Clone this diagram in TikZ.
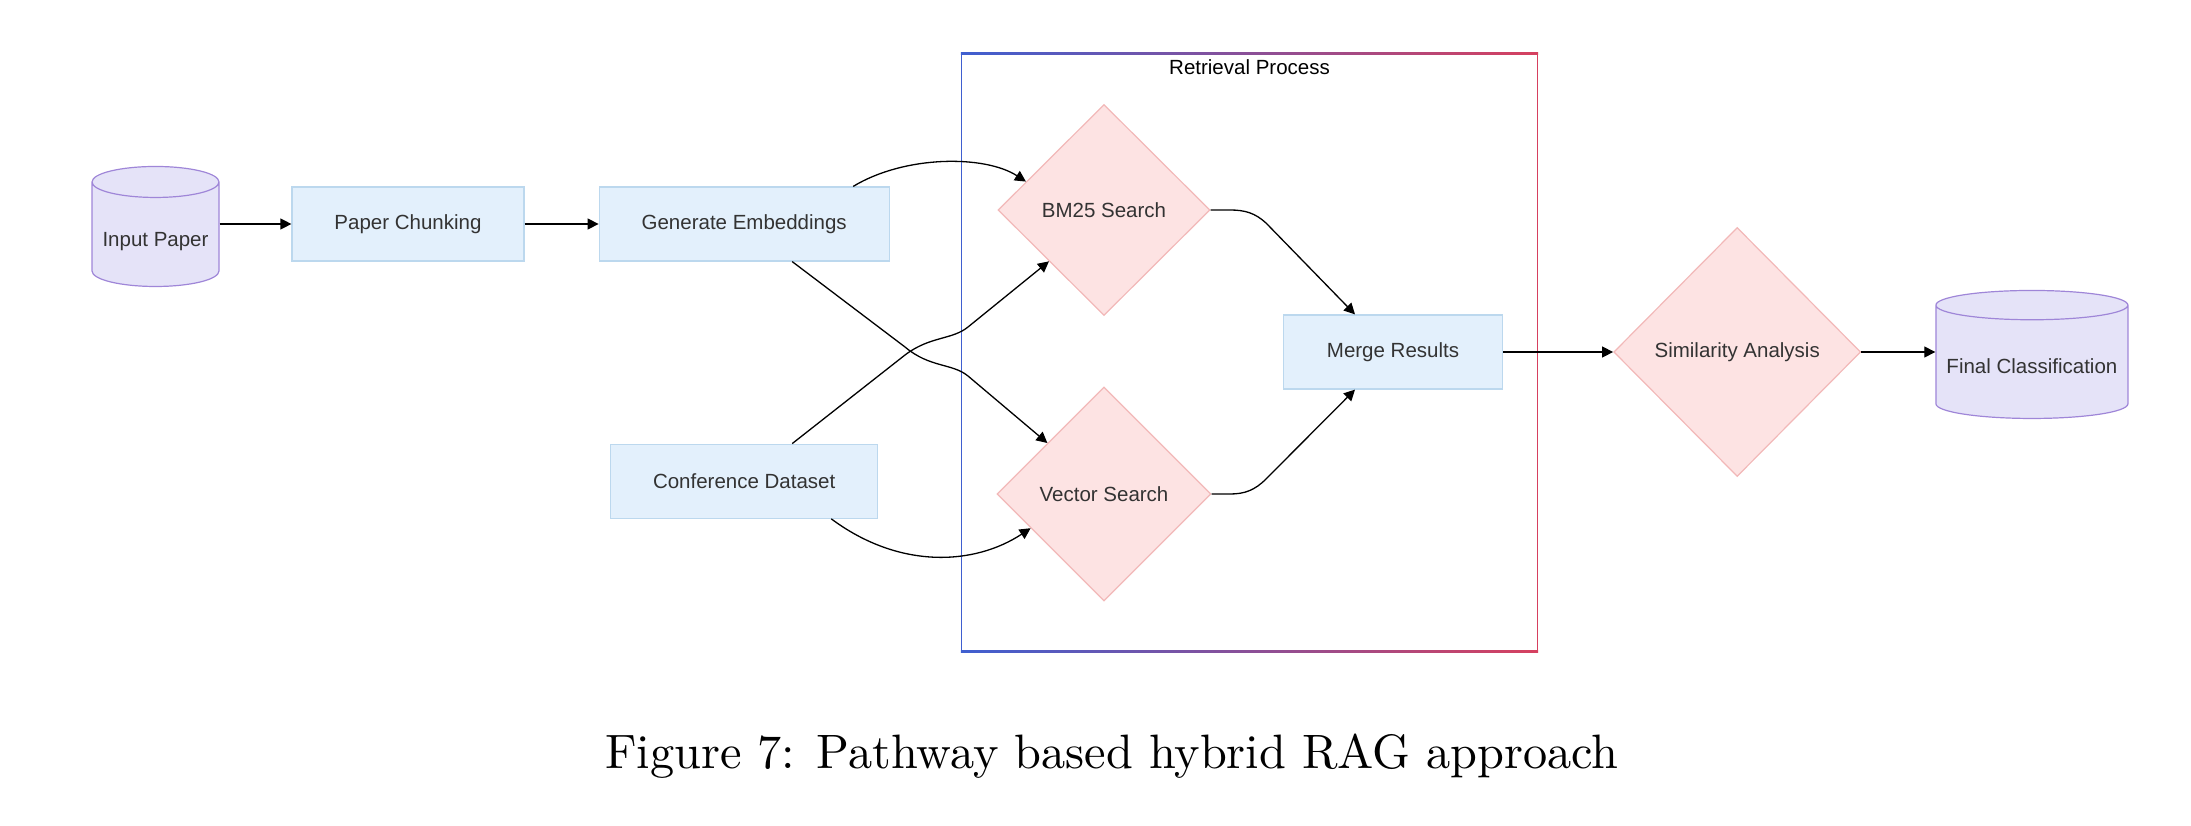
\documentclass[tikz,border=0pt]{standalone}
\usepackage{fontspec}
\usepackage{tikz}
\usetikzlibrary{positioning,arrows.meta,shapes.geometric}
\newfontfamily\diagfont{Liberation Sans}
\definecolor{boxfill}{HTML}{E3F0FC}
\definecolor{boxline}{HTML}{BCD8EE}
\definecolor{dmdfill}{HTML}{FDE3E3}
\definecolor{dmdline}{HTML}{F2B8B8}
\definecolor{cylfill}{HTML}{E5E3F8}
\definecolor{cylline}{HTML}{9F86D8}
\definecolor{txtgray}{HTML}{333333}
\definecolor{retblue}{HTML}{3F5FD0}
\definecolor{retred}{HTML}{D6405F}

\begin{document}
\begin{tikzpicture}[
  x=1pt, y=-1pt,
  node distance=74pt,
  font=\diagfont\fontsize{20.5}{24}\selectfont,
  box/.style={draw=boxline, fill=boxfill, line width=1.2pt, text=txtgray, minimum height=74pt},
  dmd/.style={diamond, aspect=1, draw=dmdline, fill=dmdfill, line width=1.2pt, text=txtgray, inner sep=0pt},
  db/.style={cylinder, shape border rotate=90, draw=cylline, fill=cylfill, line width=1.2pt,
    text=txtgray, text height=24pt, text depth=5pt},
  arrow/.style={-{Triangle[length=11pt,width=11pt]}, line width=1.3pt},
]
\useasboundingbox (0,0) rectangle (2191,826);

% retrieval frame
\node[minimum width=577pt, minimum height=599pt, inner sep=0pt] (retr) at (1249.5,352.5) {};
\fill[retblue] (retr.north west) rectangle ([xshift=1.5pt]retr.south west);
\fill[retred] ([xshift=-1.5pt]retr.north east) rectangle (retr.south east);
\shade[left color=retblue, right color=retred] (retr.north west) rectangle ([yshift=-1.5pt]retr.north east);
\shade[left color=retblue, right color=retred] ([yshift=1.5pt]retr.south west) rectangle (retr.south east);
\node[below=7pt of retr.north, inner sep=0pt] (retrlbl) {Retrieval Process};

\node[db, aspect=0.275, minimum width=127pt, minimum height=120pt] (inp) at (155.5,237) {Input Paper};
\node[box, minimum width=232pt] (chunk) at (408,224) {Paper Chunking};
\node[box, minimum width=290pt, right=of chunk] (embed) {Generate Embeddings};
\node[box, minimum width=267pt, below=182pt of embed] (conf) {Conference Dataset};

\node[dmd, minimum width=212pt, minimum height=211pt] (bm25) at (1104,210) {BM25 Search};
\node[dmd, minimum width=214pt, minimum height=214pt] (vec) at (1104,494) {Vector Search};
\node[box, minimum width=219pt] (merge) at (1393,352) {Merge Results};
\node[dmd, minimum width=247pt, minimum height=249pt, right=110pt of merge] (sim) {Similarity Analysis};
\node[db, aspect=0.165, minimum width=192pt, minimum height=128pt, right=74pt of sim, yshift=-12pt] (final) {Final Classification};

\node[anchor=base, font=\rmfamily\normalsize] (cap) at (1112,768) {\scalebox{4.83}{Figure 7: Pathway based hybrid RAG approach}};

\draw[arrow] (inp.east |- chunk.west) -- (chunk.west);
\draw[arrow] (chunk) -- (embed);
\draw[arrow] ([xshift=109pt]embed.north) .. controls (905,155) and (985,155) .. (bm25.160);
\draw[arrow] ([xshift=48pt]embed.south) -- (905,347) .. controls (930,368) and (952,363) .. (968,376) -- (vec.138);
\draw[arrow] ([xshift=48pt]conf.north) -- (905,355) .. controls (930,336) and (952,340) .. (968,327) -- (bm25.223);
\draw[arrow] ([xshift=87pt]conf.south) .. controls (900,570) and (975,565) .. (vec.205);
\draw[arrow] (bm25.east) -- (1230,210) .. controls (1245,210) and (1255,213) .. (1266,223) -- ([xshift=-38pt]merge.north);
\draw[arrow] (vec.east) -- (1230,494) .. controls (1245,494) and (1255,490) .. (1266,479) -- ([xshift=-38pt]merge.south);
\draw[arrow] (merge) -- (sim);
\draw[arrow] (sim.east) -- (sim.east -| final.west);
\end{tikzpicture}
\end{document}
